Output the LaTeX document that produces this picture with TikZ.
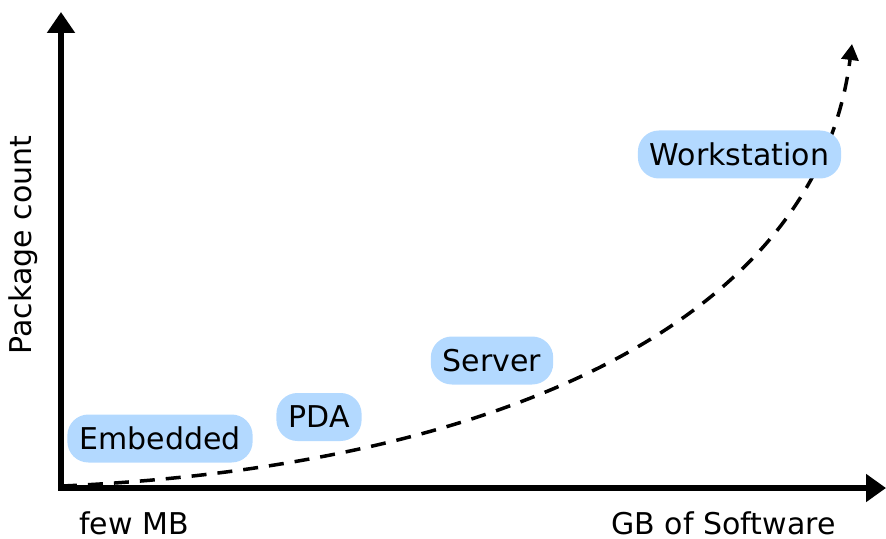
\documentclass[tikz,border=0pt]{standalone}
\usepackage{fontspec}
\setmainfont{DejaVu Sans}
\usetikzlibrary{arrows.meta}
\definecolor{pillblue}{HTML}{B3D9FF}
\tikzset{
  axisline/.style={line width=2.6pt, line join=miter,
    {Triangle[length=10.5pt,width=13.5pt]}-{Triangle[length=10pt,width=13.5pt]}},
  trend/.style={line width=1.75pt, dash pattern=on 7.5pt off 5.5pt,
    -{Triangle[length=8pt,width=8.5pt]}},
  pill/.style={fill=pillblue, rounded corners=10.5pt, minimum height=24pt,
    inner xsep=6pt, inner ysep=0pt, text height=11pt, text depth=0.3pt,
    font=\fontsize{15pt}{18pt}\selectfont},
  axislabel/.style={font=\fontsize{15pt}{18pt}\selectfont, inner sep=0pt}
}
\begin{document}
\begin{tikzpicture}[x=0.5pt,y=-0.5pt]
\useasboundingbox (0,0) rectangle (886,539);
\coordinate (o) at (61,488);
\coordinate (ytip) at (61,12);
\coordinate (xtip) at (886,488);
\coordinate (cstart) at (62,486);
\coordinate (cend) at (852,44);
\draw[axisline] (ytip) -- (o) -- (xtip);
\draw[trend] (cstart) .. controls (470,468) and (815,335) .. (cend);
\node[pill] (embedded) at (160,438.5) {Embedded};
\node[pill] (pda) at (319,417) {PDA};
\node[pill] (server) at (492,360.5) {Server};
\node[pill] (workstation) at (739.5,154.5) {Workstation};
\node[axislabel, anchor=base] (fewmb) at (134,534) {few MB};
\node[axislabel, anchor=base] (gb) at (723.5,534) {GB of Software};
\node[axislabel, anchor=base, rotate=90] (pkg) at (32,245) {Package count};
\end{tikzpicture}
\end{document}
